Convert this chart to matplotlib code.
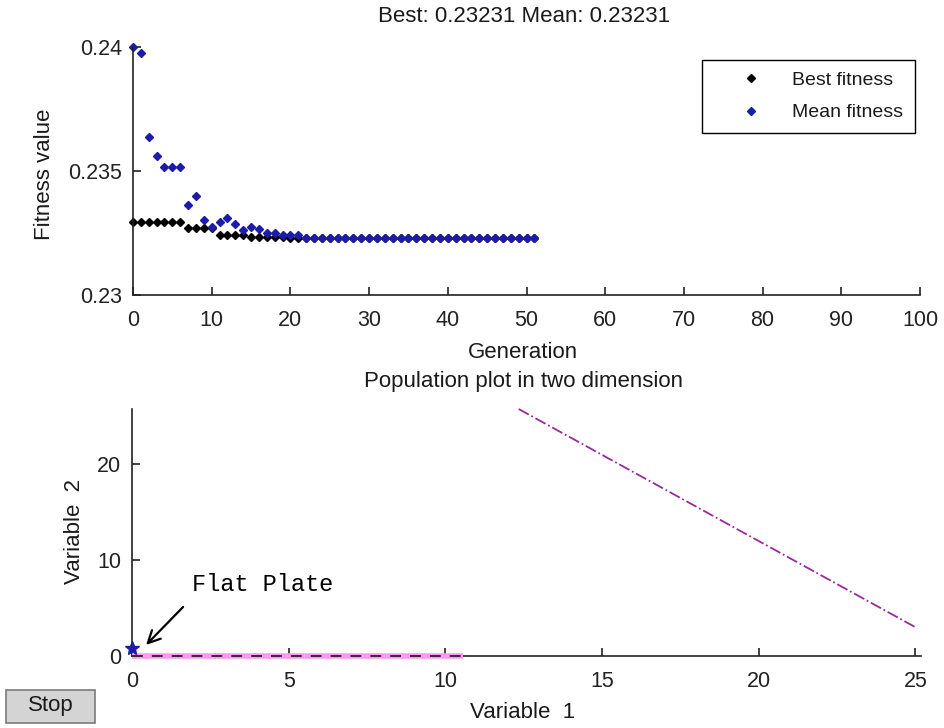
import matplotlib
matplotlib.use("Agg")
import matplotlib.pyplot as plt
from matplotlib.patches import Rectangle
import numpy as np

# ---- data ----
generations = list(range(52))
best_fitness = [0.23293] * 7 + [0.23271] * 4 + [0.23242] * 4 + [0.23233] * 5 + [0.23231] * 32
mean_fitness = [0.24000, 0.23977, 0.23639, 0.23559, 0.23515, 0.23515, 0.23515, 0.23361,
                0.23398, 0.23303, 0.23276, 0.23293, 0.23310, 0.23287, 0.23262, 0.23276,
                0.23265, 0.23249, 0.23249, 0.23242, 0.23242, 0.23240] + [0.23231] * 30
title_top = "Best: 0.23231 Mean: 0.23231"

pop_flat_x = [0.0, 10.55]
pop_flat_y = [0.0, 0.0]
pop_diag_x = [12.34, 25.0]
pop_diag_y = [25.7, 3.0]
star_x = [0.0]
star_y = [0.8]

W, H = 944, 728
fig = plt.figure(figsize=(W / 100, H / 100), dpi=100)
plt.rcParams['font.family'] = ['Liberation Sans', 'DejaVu Sans']
FS = 16
TFS = 15.5
TXT = '#1a1a1a'

def px_axes(l, t, r, b):
    return fig.add_axes([l / W, 1 - b / H, (r - l) / W, (b - t) / H])

def ftext(x, y, s, **kw):
    return fig.text(x / W, 1 - y / H, s, ha='center', va='center', color=TXT, **kw)

def style(ax):
    for s in ['top', 'right']:
        ax.spines[s].set_visible(False)
    for s in ['left', 'bottom']:
        ax.spines[s].set_linewidth(1.2)
        ax.spines[s].set_color('#222222')
    ax.tick_params(direction='in', length=6, width=1.2, labelsize=TFS, colors='#222222')
    ax.tick_params(axis='x', pad=11)
    ax.tick_params(axis='y', pad=8)

# ---- top axes ----
ax1 = px_axes(133, 47, 920, 295)
style(ax1)
ax1.plot(generations, best_fitness, linestyle='none', marker='D', markersize=4.5,
         color='black', label='Best fitness', clip_on=False)
ax1.plot(generations, mean_fitness, linestyle='none', marker='D', markersize=4.5,
         color='#1c1ca8', label='Mean fitness', clip_on=False)
ax1.set_xlim(0, 100)
ax1.set_ylim(0.23, 0.24)
ax1.set_xticks(range(0, 101, 10))
ax1.set_yticks([0.23, 0.235, 0.24])
ax1.set_yticklabels(['0.23', '0.235', '0.24'])
ftext(524, 17, title_top, fontsize=FS)
ftext(523, 352, 'Generation', fontsize=FS)
ftext(44, 174, 'Fitness value', fontsize=FS, rotation=90)
leg = ax1.legend(loc='upper right', bbox_to_anchor=(915 / W, 1 - 60 / H),
                 bbox_transform=fig.transFigure, borderaxespad=0, fontsize=14,
                 fancybox=False, edgecolor='black', framealpha=1, handlelength=3.85,
                 handletextpad=0.2, borderpad=0.6, labelspacing=0.75, markerscale=0.8)
leg.get_frame().set_linewidth(1.0)
for t in leg.get_texts():
    t.set_color(TXT)

# ---- bottom axes ----
ax2 = px_axes(132, 409, 921, 656)
style(ax2)
ax2.plot(pop_flat_x, pop_flat_y, color='#ff99f0', linewidth=4, solid_capstyle='butt', clip_on=False, zorder=3)
ax2.plot(pop_flat_x, pop_flat_y, color='#222222', linewidth=1.3, linestyle=(0, (6, 5)), clip_on=False, zorder=4)
ax2.plot(pop_diag_x, pop_diag_y, color='#9a2a9a', linewidth=1.3, linestyle='-.', clip_on=False, zorder=3)
ax2.plot(star_x, star_y, linestyle='none', marker='*', markersize=10, color='#1c1ca8',
         clip_on=False, zorder=5)
ax2.set_xlim(0, 25.18)
ax2.set_ylim(0, 25.7)
ax2.set_xticks(range(0, 26, 5))
ax2.set_yticks([0, 10, 20])
ftext(524, 381, 'Population plot in two dimension', fontsize=FS)
ftext(523, 713, 'Variable  1', fontsize=FS)
ftext(75, 531, 'Variable  2', fontsize=FS, rotation=90)
ax2.annotate('', xy=(0.45, 1.15), xytext=(1.63, 5.1),
             arrowprops=dict(arrowstyle='->', color='black', lw=1.6, mutation_scale=22,
                             shrinkA=0, shrinkB=0))
ax2.text(1.9, 7.4, 'Flat Plate', fontsize=17, family='Liberation Mono', color='black',
         ha='left', va='center')

# Stop button
fig.patches.append(Rectangle((6 / W, 1 - 723 / H), 89 / W, 33 / H, transform=fig.transFigure,
                             facecolor='#d4d4d4', edgecolor='#7a7a7a', linewidth=1.2))
ftext(51, 706, 'Stop', fontsize=FS)

fig.savefig('out.png', dpi=100)
